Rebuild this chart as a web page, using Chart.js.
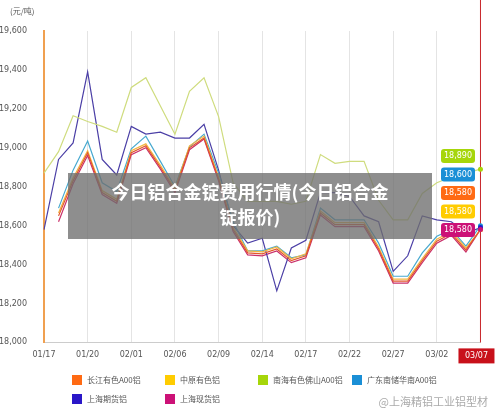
<!DOCTYPE html>
<html>
<head>
<meta charset="utf-8">
<script src="https://cdn.jsdelivr.net/npm/chart.js@4/dist/chart.umd.min.js"></script>
<style>
  body { margin: 0; background: #fff; font-family: "Noto Sans CJK SC", sans-serif; }
  #wrap { position: relative; width: 500px; height: 414px; }
  #banner { position: absolute; left: 68px; top: 173px; width: 364px; height: 66px;
    background: rgba(110,110,110,0.78); color: #fff; font-weight: bold; font-size: 18px;
    line-height: 25px; text-align: center; padding-top: 6px; box-sizing: border-box; }
  .lg { position: absolute; font-size: 8px; color: #555; display: flex; align-items: center; }
  .lg span { display: inline-block; width: 10px; height: 10px; margin-right: 5px; }
  #wm { position: absolute; right: 12px; top: 393px; font-size: 11px; color: #aaa; }
</style>
</head>
<body>
<div id="wrap">
  <canvas id="c" width="500" height="414"></canvas>
  <div id="banner">今日铝合金锭费用行情(今日铝合金<br>锭报价)</div>
  <div id="legend"></div>
  <div id="wm">@上海精铝工业铝型材</div>
</div>
<script>
const dates = ['01/17','01/18','01/19','01/20','01/21','01/22','02/01','02/02','02/05','02/06','02/07','02/08','02/09','02/12','02/13','02/14','02/15','02/16','02/17','02/20','02/21','02/22','02/23','02/26','02/27','02/28','03/01','03/02','03/05','03/06','03/07'];
const yTicks = [18000, 18200, 18400, 18600, 18800, 19000, 19200, 19400, 19600];

const changjiang = [null,18650,18830,18975,18770,18725,18975,19010,18900,18780,19000,19050,18840,18580,18460,18455,18480,18420,18445,18665,18605,18605,18605,18480,18315,18315,18420,18520,18560,18475,18580];
const zhongyuan  = [null,18665,18845,18985,18780,18735,18985,19020,18910,18790,19010,19060,18850,18590,18470,18465,18490,18430,18455,18675,18615,18615,18615,18490,18325,18325,18430,18530,18570,18485,18580];
const nanhai     = [18870,18980,19165,19135,19110,19080,19310,19360,19215,19070,19290,19360,19160,18820,18725,18725,18725,18710,18725,18965,18920,18930,18930,18730,18630,18630,18765,18820,18850,18870,18890];
const guangdong  = [null,18690,18885,19035,18820,18775,18995,19060,18930,18800,19005,19070,18870,18620,18470,18470,18495,18435,18450,18690,18630,18630,18630,18510,18340,18340,18460,18545,18580,18495,18600];
const shfe       = [18580,18940,19025,19390,18940,18860,19110,19070,19080,19050,19050,19120,18885,18600,18510,18535,18265,18485,18525,18770,18770,18750,18650,18620,18365,18445,18650,18630,18620,18560,18590];
const shspot     = [null,18620,18815,18960,18760,18715,18965,19000,18890,18770,18990,19045,18830,18570,18450,18445,18470,18410,18435,18655,18595,18595,18595,18470,18305,18305,18410,18510,18550,18465,18580];

const series = [
  { name: '长江有色A00铝', data: changjiang, line: '#e2572a', box: '#ff6a13', row: 0, x: 72 },
  { name: '中原有色铝', data: zhongyuan, line: '#f2b640', box: '#ffcc00', row: 0, x: 165 },
  { name: '南海有色佛山A00铝', data: nanhai, line: '#cfdc7e', box: '#a6d60a', row: 0, x: 258 },
  { name: '广东南储华南A00铝', data: guangdong, line: '#47a9cf', box: '#1a8fd6', row: 0, x: 352 },
  { name: '上海期货铝', data: shfe, line: '#4b3fa6', box: '#2a17c8', row: 1, x: 72 },
  { name: '上海现货铝', data: shspot, line: '#c9306a', box: '#cc1177', row: 1, x: 165 }
];

// 凡例
const legend = document.getElementById('legend');
series.forEach(s => {
  const d = document.createElement('div');
  d.className = 'lg';
  d.style.left = s.x + 'px';
  d.style.top = (374 + s.row * 19) + 'px';
  d.innerHTML = '<span style="background:' + s.box + '"></span>' + s.name;
  legend.appendChild(d);
});

// 右側の値ラベルと赤い縦線
const labelOrder = [2, 3, 0, 1, 5];
const overlay = {
  id: 'overlay',
  afterDraw(chart) {
    const ctx = chart.ctx;
    const xs = chart.scales.x, ys = chart.scales.y;
    const last = dates.length - 1;
    const x = xs.getPixelForValue(last);
    ctx.save();
    ctx.strokeStyle = '#c8262a';
    ctx.lineWidth = 1;
    ctx.beginPath();
    ctx.moveTo(x, 0);
    ctx.lineTo(x, ys.bottom);
    ctx.stroke();
    ctx.fillStyle = '#c8101a';
    ctx.fillRect(x - 22, ys.bottom + 6, 36, 15);
    ctx.fillStyle = '#fff';
    ctx.font = '8px "DejaVu Sans"';
    ctx.textAlign = 'center';
    ctx.textBaseline = 'middle';
    ctx.fillText(dates[last], x - 4, ys.bottom + 13.5);

    labelOrder.forEach((i, k) => {
      const s = series[i];
      const cy = 156 + k * 18.5;
      ctx.fillStyle = s.box;
      ctx.beginPath();
      ctx.roundRect(441, cy - 7, 34, 14, 3);
      ctx.fill();
      ctx.fillStyle = '#fff';
      ctx.fillText(s.data[last].toLocaleString('en-US'), 458, cy);
    });
    series.forEach(s => {
      ctx.fillStyle = s.box;
      ctx.beginPath();
      ctx.arc(x, ys.getPixelForValue(s.data[last]), 2.5, 0, Math.PI * 2);
      ctx.fill();
    });

    ctx.fillStyle = '#555';
    ctx.font = '8px "Noto Sans CJK SC"';
    ctx.textAlign = 'left';
    ctx.fillText('(元/吨)', 10, 11);
    ctx.restore();
  }
};

new Chart(document.getElementById('c'), {
  type: 'line',
  data: {
    labels: dates,
    datasets: series.map(s => ({
      label: s.name,
      data: s.data,
      borderColor: s.line,
      borderWidth: 1.2,
      pointRadius: 0,
      tension: 0,
      spanGaps: false
    }))
  },
  options: {
    responsive: false,
    animation: false,
    layout: { padding: { top: 31, right: 16, bottom: 46, left: 0 } },
    plugins: { legend: { display: false }, tooltip: { enabled: false } },
    scales: {
      x: {
        offset: false,
        grid: {
          color: ctx => (ctx.index % 3 === 0 ? '#e4e4e4' : 'transparent'),
          borderDash: [2, 2],
          drawTicks: false
        },
        border: { color: '#ccc' },
        ticks: {
          autoSkip: false,
          maxRotation: 0,
          padding: 8,
          color: '#555',
          font: { size: 8, family: 'DejaVu Sans' },
          callback: (v, i) => (i % 3 === 0 ? dates[i] : '')
        }
      },
      y: {
        min: 18000,
        max: 19600,
        afterFit: a => { a.width = 44; },
        afterBuildTicks: a => { a.ticks = yTicks.map(v => ({ value: v })); },
        grid: { display: false },
        border: { color: '#f0a050', width: 2 },
        ticks: {
          color: '#555',
          padding: 9,
          font: { size: 8, family: 'DejaVu Sans' },
          callback: v => v.toLocaleString('en-US')
        }
      }
    }
  },
  plugins: [overlay]
});
</script>
</body>
</html>
